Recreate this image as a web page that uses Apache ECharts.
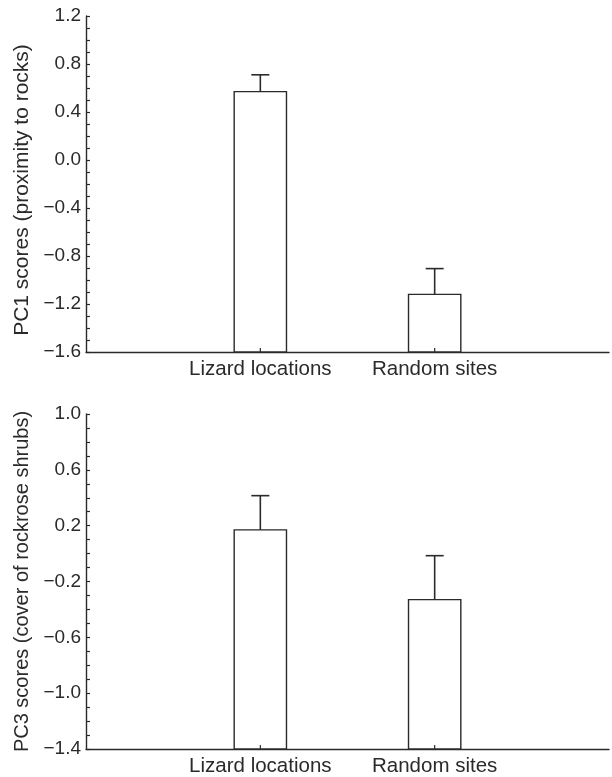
<!DOCTYPE html>
<html>
<head>
<meta charset="utf-8">
<script src="https://cdn.jsdelivr.net/npm/echarts@6/dist/echarts.min.js"></script>
<style>
html,body{margin:0;padding:0;background:#fff;}
#chart{width:612px;height:777px;}
</style>
</head>
<body>
<div id="chart"></div>
<script>
// ---- data ----
const categories = ['Lizard locations', 'Random sites'];
const pc1Means = [0.57, -1.12];
const pc1Errors = [0.14, 0.215];
const pc3Means = [0.17, -0.33];
const pc3Errors = [0.245, 0.315];
const pc1Name = 'PC1 scores (proximity to rocks)';
const pc3Name = 'PC3 scores (cover of rockrose shrubs)';

const FONT = "'Liberation Sans', Arial, Helvetica, sans-serif";
const INK = '#2a2a2a';

function fmt(v) {
  const s = Math.abs(v).toFixed(1);
  return (v < -1e-9 ? '\u2212' : '') + s;
}

function makeRender(yMin) {
  return function (params, api) {
    const x = api.value(0), v = api.value(1), e = api.value(2);
    const base = api.coord([x, yMin]);
    const top = api.coord([x, v]);
    const cap = api.coord([x, v + e]);
    const halfW = api.size([0.3, 0])[0] / 2;
    const capHalf = 9;
    return {
      type: 'group',
      children: [
        { type: 'rect', shape: { x: base[0] - halfW, y: top[1], width: 2 * halfW, height: base[1] - top[1] },
          style: { fill: '#fff', stroke: INK, lineWidth: 1.4 } },
        { type: 'line', shape: { x1: top[0], y1: top[1], x2: cap[0], y2: cap[1] },
          style: { stroke: INK, lineWidth: 1.6 } },
        { type: 'line', shape: { x1: cap[0] - capHalf, y1: cap[1], x2: cap[0] + capHalf, y2: cap[1] },
          style: { stroke: INK, lineWidth: 1.6 } },
        { type: 'line', shape: { x1: base[0], y1: base[1], x2: base[0], y2: base[1] - 4 },
          style: { stroke: INK, lineWidth: 1.2 } }
      ]
    };
  };
}

function xAxis(gridIndex) {
  return {
    type: 'value', gridIndex: gridIndex, min: 0, max: 3, interval: 1,
    axisLine: { show: true, onZero: false, lineStyle: { color: INK, width: 1.4 } },
    axisTick: { show: false },
    splitLine: { show: false },
    axisLabel: {
      color: INK, fontSize: 20.5, fontFamily: FONT, margin: 7,
      formatter: function (v) { return categories[Math.round(v) - 1] || ''; }
    }
  };
}

function yAxis(gridIndex, min, max, interval, name, labelStep, minorSplit, nameSize, namePad) {
  return {
    type: 'value', gridIndex: gridIndex, min: min, max: max, interval: interval,
    name: name, nameLocation: 'middle', nameGap: 53, nameRotate: 90,
    nameTextStyle: { color: INK, fontSize: nameSize, fontFamily: FONT, padding: namePad },
    axisLine: { show: true, onZero: false, lineStyle: { color: INK, width: 1.4 } },
    axisTick: { show: true, inside: true, length: 4, lineStyle: { color: INK, width: 1.2 } },
    minorTick: { show: true, splitNumber: minorSplit, length: 4, lineStyle: { color: INK, width: 1.2 } },
    splitLine: { show: false },
    axisLabel: {
      color: INK, fontSize: 19, fontFamily: FONT, margin: 5,
      formatter: function (v) {
        const k = Math.round((v - min) / interval);
        return (k % labelStep === 0) ? fmt(v) : '';
      }
    }
  };
}

const chart = echarts.init(document.getElementById('chart'), null, { renderer: 'canvas' });
chart.setOption({
  animation: false,
  backgroundColor: '#fff',
  grid: [
    { left: 86, right: 1, top: 16, height: 336 },
    { left: 86, right: 1, top: 414, height: 336 }
  ],
  xAxis: [xAxis(0), xAxis(1)],
  yAxis: [
    yAxis(0, -1.6, 1.2, 0.4, pc1Name, 1, 4, 21, [0, 12, 0, 0]),
    yAxis(1, -1.4, 1.0, 0.2, pc3Name, 2, 2, 20, 0)
  ],
  series: [
    { type: 'custom', xAxisIndex: 0, yAxisIndex: 0, renderItem: makeRender(-1.6),
      data: categories.map((c, i) => [i + 1, pc1Means[i], pc1Errors[i]]), clip: false },
    { type: 'custom', xAxisIndex: 1, yAxisIndex: 1, renderItem: makeRender(-1.4),
      data: categories.map((c, i) => [i + 1, pc3Means[i], pc3Errors[i]]), clip: false }
  ]
});
</script>
</body>
</html>
